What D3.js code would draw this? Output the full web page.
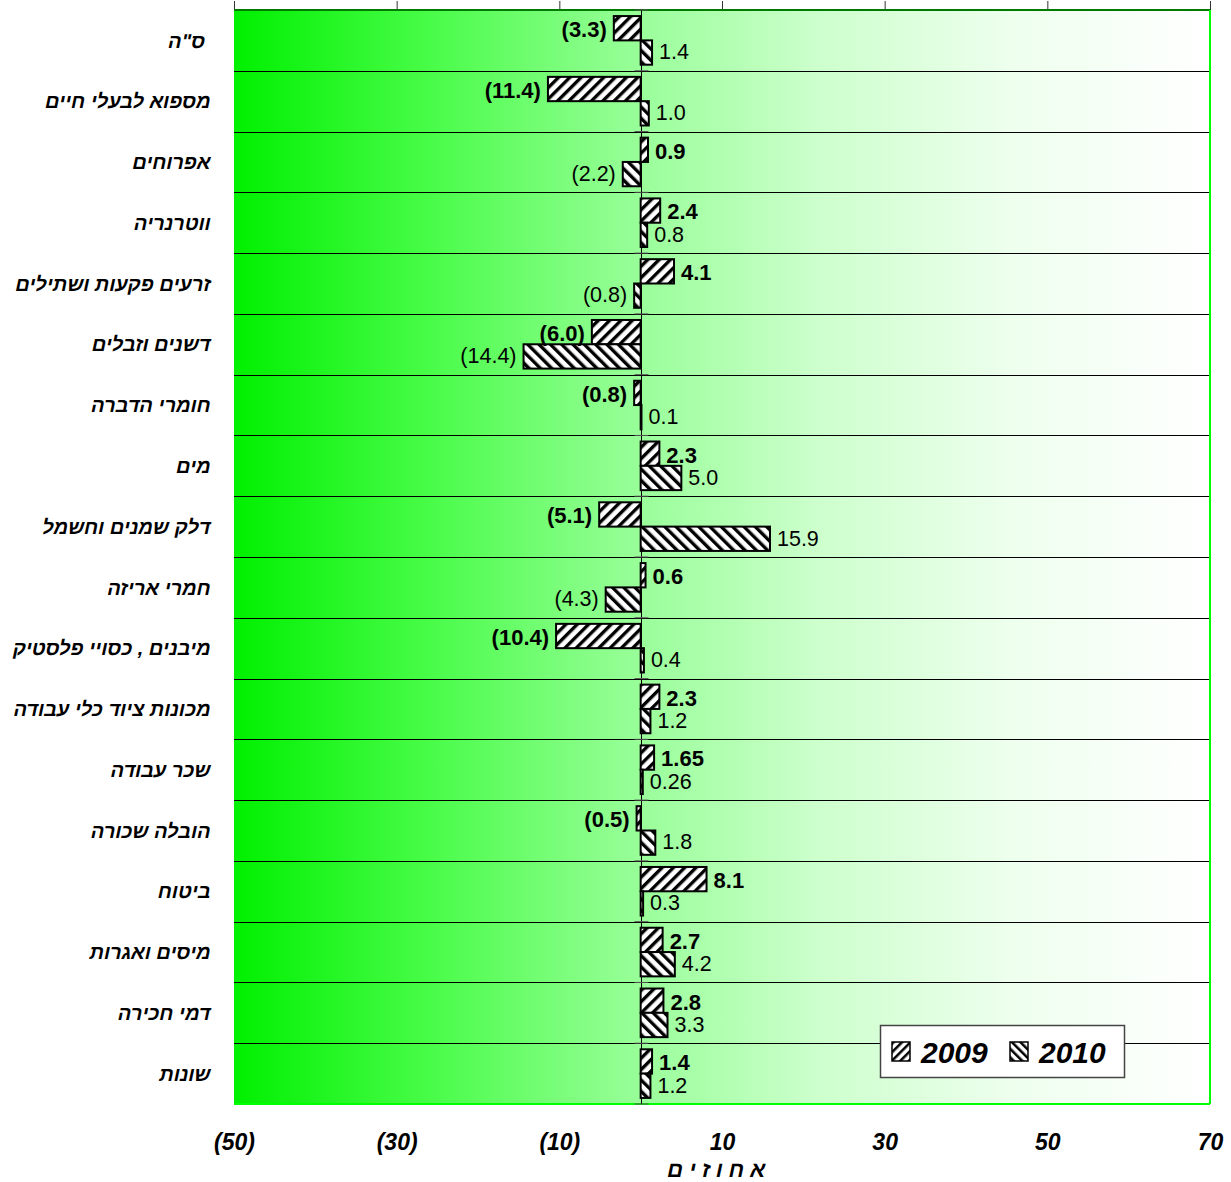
<!DOCTYPE html>
<html><head><meta charset="utf-8">
<script src="https://cdn.jsdelivr.net/npm/d3@7"></script>
<style>
html,body{margin:0;padding:0;background:#fff;}
svg{display:block;font-family:"Liberation Sans",Arial,sans-serif;}
</style></head>
<body>
<svg id="chart" width="1231" height="1182"></svg>
<script>
const categories = ['ס"ה ', "מספוא לבעלי חיים", "אפרוחים", "ווטרנריה", "זרעים פקעות ושתילים", "דשנים וזבלים", "חומרי הדברה", "מים", "דלק שמנים וחשמל", "חמרי אריזה", "מיבנים , כסויי פלסטיק", "מכונות ציוד כלי עבודה", "שכר עבודה", "הובלה שכורה", "ביטוח", "מיסים ואגרות", "דמי חכירה", "שונות"];
const values2009 = [-3.3, -11.4, 0.9, 2.4, 4.1, -6.0, -0.8, 2.3, -5.1, 0.6, -10.4, 2.3, 1.65, -0.5, 8.1, 2.7, 2.8, 1.4];
const values2010 = [1.4, 1.0, -2.2, 0.8, -0.8, -14.4, 0.1, 5.0, 15.9, -4.3, 0.4, 1.2, 0.26, 1.8, 0.3, 4.2, 3.3, 1.2];
const seriesNames = ["2009", "2010"];
const xTicks = [-50, -30, -10, 10, 30, 50, 70];
const axisTitle = "א ח ו ז י ם";

const svg = d3.select("#chart");
const L = 234, R = 1210, T = 10, B = 1104;

const x = d3.scaleLinear().domain([-50, 70]).range([L, R]);
const y = d3.scaleBand().domain(categories).range([T, B]).paddingInner(0.2).paddingOuter(0.1);
const yi = d3.scaleBand().domain(seriesNames).range([0, y.bandwidth()]);

const defs = svg.append("defs");
const grad = defs.append("linearGradient").attr("id", "bg").attr("x1", "0%").attr("x2", "100%").attr("y1", "0%").attr("y2", "0%");
[[0, "rgb(0,240,0)"], [0.2, "rgb(72,252,72)"], [0.4, "rgb(148,254,148)"], [0.6, "rgb(205,255,205)"], [0.8, "rgb(238,255,238)"], [1, "rgb(255,255,255)"]]
  .forEach(([o, c]) => grad.append("stop").attr("offset", o).attr("stop-color", c));

function hatch(id, angle, size) {
  const p = defs.append("pattern").attr("id", id).attr("patternUnits", "userSpaceOnUse")
    .attr("width", size).attr("height", size).attr("patternTransform", `rotate(${angle})`);
  p.append("rect").attr("width", size).attr("height", size).attr("fill", "#fff");
  p.append("rect").attr("width", size * 0.42).attr("height", size).attr("fill", "#000");
}
hatch("p2009", 45, 8);
hatch("p2010", -45, 8);
hatch("l2009", 45, 6);
hatch("l2010", -45, 6);
const fills = { "2009": "url(#p2009)", "2010": "url(#p2010)" };
const legendFills = { "2009": "url(#l2009)", "2010": "url(#l2010)" };

// plot background
svg.append("rect").attr("x", L).attr("y", T).attr("width", R - L).attr("height", B - T).attr("fill", "url(#bg)");

// top axis ticks
const topAxis = svg.append("g").attr("transform", `translate(0,${T})`)
  .call(d3.axisTop(x).tickValues(xTicks).tickSize(9).tickFormat(""));
topAxis.select(".domain").remove();
topAxis.selectAll("line").attr("stroke", "#333");

// gridlines between rows
const gap = (y.step() - y.bandwidth()) / 2;
svg.append("g").selectAll("line").data(categories.slice(1)).join("line")
  .attr("x1", L).attr("x2", R)
  .attr("y1", d => Math.round(y(d) - gap) + 0.5).attr("y2", d => Math.round(y(d) - gap) + 0.5)
  .attr("stroke", "#000").attr("stroke-width", 1);

// borders
svg.append("line").attr("x1", L).attr("x2", R).attr("y1", T).attr("y2", T).attr("stroke", "#007a00").attr("stroke-width", 2);
svg.append("line").attr("x1", R).attr("x2", R).attr("y1", T).attr("y2", B).attr("stroke", "#00ff00").attr("stroke-width", 2);
svg.append("line").attr("x1", L).attr("x2", R).attr("y1", B).attr("y2", B).attr("stroke", "#00ff00").attr("stroke-width", 2);

// zero line + category ticks
const x0 = Math.round(x(0)) + 0.5;
svg.append("line").attr("x1", x0).attr("x2", x0).attr("y1", T).attr("y2", B).attr("stroke", "#000").attr("stroke-width", 1);
svg.append("g").selectAll("line").data(categories.concat(["__end"])).join("line")
  .attr("x1", x0 - 7).attr("x2", x0 + 7)
  .attr("y1", (d, i) => T + i * y.step()).attr("y2", (d, i) => T + i * y.step())
  .attr("stroke", "#555").attr("stroke-width", 1);

// bars
const rows = [];
categories.forEach((c, i) => {
  rows.push({ cat: c, s: "2009", v: values2009[i] });
  rows.push({ cat: c, s: "2010", v: values2010[i] });
});
svg.append("g").selectAll("rect").data(rows).join("rect")
  .attr("x", d => x(Math.min(0, d.v)))
  .attr("y", d => y(d.cat) + yi(d.s))
  .attr("width", d => Math.abs(x(d.v) - x(0)))
  .attr("height", yi.bandwidth())
  .attr("fill", d => fills[d.s])
  .attr("stroke", "#000").attr("stroke-width", 2);

function fmt(v) {
  const a = Math.abs(v);
  const s = Math.abs(Math.round(a * 10) - a * 10) < 1e-9 ? a.toFixed(1) : String(a);
  return v < 0 ? `(${s})` : s;
}
svg.append("g").selectAll("text").data(rows).join("text")
  .attr("x", d => d.v >= 0 ? x(d.v) + 7 : x(d.v) - 7)
  .attr("y", d => y(d.cat) + yi(d.s) + yi.bandwidth() / 2 + (d.s === "2009" ? 1 : -1))
  .attr("dy", "0.36em")
  .attr("text-anchor", d => d.v >= 0 ? "start" : "end")
  .attr("font-size", d => d.s === "2009" ? 22 : 21.5)
  .attr("font-weight", d => d.s === "2009" ? "bold" : "normal")
  .attr("fill", "#000")
  .text(d => fmt(d.v));

// category labels (slanted like the italic original)
svg.append("g").selectAll("text").data(categories).join("text")
  .attr("transform", d => `translate(211,${y(d) + y.bandwidth() / 2}) skewX(-12)`)
  .attr("dy", "0.36em")
  .attr("text-anchor", "end")
  .attr("font-size", 20).attr("font-weight", "bold")
  .style("white-space", "pre")
  .text(d => d);

// bottom tick labels
const botAxis = svg.append("g").attr("transform", `translate(0,${B})`)
  .call(d3.axisBottom(x).tickValues(xTicks).tickSize(0).tickPadding(30)
    .tickFormat(v => v < 0 ? `(${-v})` : `${v}`));
botAxis.select(".domain").remove();
botAxis.selectAll("text").attr("font-size", 23).attr("font-weight", "bold").attr("font-style", "italic")
  .attr("fill", "#000").attr("font-family", "'Liberation Sans',Arial,sans-serif");

// axis title
svg.append("text").attr("transform", "translate(715,1177) skewX(-12)").attr("text-anchor", "middle")
  .attr("font-size", 22).attr("font-weight", "bold")
  .style("white-space", "pre").text(axisTitle);

// legend
const lg = svg.append("g").attr("transform", "translate(880,1025)");
lg.append("rect").attr("x", 0.5).attr("y", 0.5).attr("width", 244).attr("height", 52)
  .attr("fill", "#fff").attr("stroke", "#444").attr("stroke-width", 1.5);
const li = lg.selectAll("g").data(seriesNames).join("g")
  .attr("transform", (d, i) => `translate(${12 + i * 118},0)`);
li.append("rect").attr("x", 0).attr("y", 17).attr("width", 18).attr("height", 19)
  .attr("fill", d => legendFills[d]).attr("stroke", "#000").attr("stroke-width", 1.5);
li.append("text").attr("x", 29).attr("y", 38).attr("font-size", 30)
  .attr("font-weight", "bold").attr("font-style", "italic").text(d => d);
</script>
</body></html>
